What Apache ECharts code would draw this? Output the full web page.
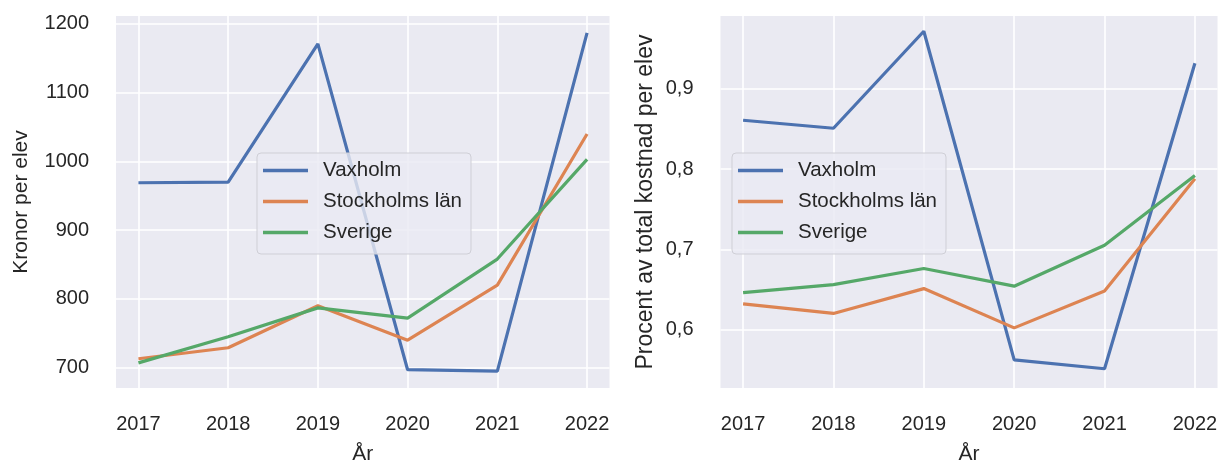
<!DOCTYPE html>
<html>
<head>
<meta charset="utf-8">
<script src="https://cdn.jsdelivr.net/npm/echarts@6/dist/echarts.min.js"></script>
<style>
html,body{margin:0;padding:0;background:#fff;}
#c{width:1221px;height:464px;}
</style>
</head>
<body>
<div id="c"></div>
<script>
const years = [2017, 2018, 2019, 2020, 2021, 2022];
const seriesNames = ['Vaxholm', 'Stockholms län', 'Sverige'];

// Left: Kronor per elev
const kronorVaxholm = [969, 970, 1171, 697, 695, 1187];
const kronorStockholm = [713, 729, 790, 740, 820, 1040];
const kronorSverige = [707, 745, 787, 772, 858, 1003];

// Right: Procent av total kostnad per elev
const procentVaxholm = [0.861, 0.851, 0.972, 0.562, 0.551, 0.932];
const procentStockholm = [0.632, 0.620, 0.651, 0.602, 0.648, 0.788];
const procentSverige = [0.646, 0.656, 0.676, 0.654, 0.705, 0.792];

const leftTicks = [700, 800, 900, 1000, 1100, 1200];
const rightTicks = [0.6, 0.7, 0.8, 0.9];

const colors = ['#4C72B0', '#DD8452', '#55A868'];
const txt = '#262626';
const font = '"Liberation Sans", Arial, sans-serif';

function pairs(vals) { return years.map((y, i) => [y, vals[i]]); }

function xAxis(gridIndex) {
  return {
    type: 'value', gridIndex: gridIndex, min: 2016.75, max: 2022.25,
    axisLine: {show: false},
    axisTick: {show: false, customValues: years},
    axisLabel: {customValues: years, color: txt, fontSize: 20, fontFamily: font, margin: 26,
      formatter: v => String(v)},
    splitLine: {show: true, lineStyle: {color: '#ffffff', width: 1.6}},
    name: 'År', nameLocation: 'middle', nameGap: 56,
    nameTextStyle: {color: txt, fontSize: 21, fontFamily: font}
  };
}

const ch = echarts.init(document.getElementById('c'), null, {renderer: 'canvas'});
const legendCommon = {
  orient: 'vertical', top: 153, data: seriesNames,
  icon: 'rect', itemWidth: 45, itemHeight: 3.5, itemGap: 10,
  padding: [7, 9, 11, 6],
  backgroundColor: 'rgba(234,234,242,0.8)',
  borderColor: '#cfcfd6', borderWidth: 1, borderRadius: 4,
  textStyle: {color: txt, fontSize: 20.5, fontFamily: font, padding: [0, 0, 0, 10]},
  selectedMode: false
};

const option = {
  backgroundColor: '#ffffff',
  animation: false,
  color: colors,
  grid: [
    {left: 116, right: 1221 - 609.5, top: 16, bottom: 464 - 388, backgroundColor: '#EAEAF2', show: true, borderWidth: 0, outerBoundsMode: 'none', containLabel: false},
    {left: 720.5, right: 1221 - 1217.5, top: 16, bottom: 464 - 388, backgroundColor: '#EAEAF2', show: true, borderWidth: 0, outerBoundsMode: 'none', containLabel: false}
  ],
  legend: [
    Object.assign({left: 257}, legendCommon),
    Object.assign({left: 732}, legendCommon)
  ],
  xAxis: [xAxis(0), xAxis(1)],
  yAxis: [
    {
      type: 'value', gridIndex: 0, min: 670.4, max: 1211.6,
      axisLine: {show: false},
      axisTick: {show: false, customValues: leftTicks},
      axisLabel: {customValues: leftTicks, color: txt, fontSize: 20, fontFamily: font, margin: 27,
        formatter: v => String(v)},
      splitLine: {show: true, lineStyle: {color: '#ffffff', width: 1.6}},
      name: 'Kronor per elev', nameLocation: 'middle', nameGap: 84,
      nameTextStyle: {color: txt, fontSize: 21, fontFamily: font}
    },
    {
      type: 'value', gridIndex: 1, min: 0.527, max: 0.991,
      axisLine: {show: false},
      axisTick: {show: false, customValues: rightTicks},
      axisLabel: {customValues: rightTicks, color: txt, fontSize: 20, fontFamily: font, margin: 27,
        formatter: v => v.toFixed(1).replace('.', ',')},
      splitLine: {show: true, lineStyle: {color: '#ffffff', width: 1.6}},
      name: 'Procent av total kostnad per elev', nameLocation: 'middle', nameGap: 63,
      nameTextStyle: {color: txt, fontSize: 23, fontFamily: font}
    }
  ],
  series: [
    {name: seriesNames[0], data: pairs(kronorVaxholm), xAxisIndex: 0, yAxisIndex: 0},
    {name: seriesNames[1], data: pairs(kronorStockholm), xAxisIndex: 0, yAxisIndex: 0},
    {name: seriesNames[2], data: pairs(kronorSverige), xAxisIndex: 0, yAxisIndex: 0},
    {name: seriesNames[0], data: pairs(procentVaxholm), xAxisIndex: 1, yAxisIndex: 1},
    {name: seriesNames[1], data: pairs(procentStockholm), xAxisIndex: 1, yAxisIndex: 1},
    {name: seriesNames[2], data: pairs(procentSverige), xAxisIndex: 1, yAxisIndex: 1}
  ].map((s, i) => Object.assign({
    type: 'line', showSymbol: false, symbol: 'none',
    lineStyle: {width: 3.2, color: colors[i % 3]},
    itemStyle: {color: colors[i % 3]},
    emphasis: {disabled: true}
  }, s))
};
ch.setOption(option);
</script>
</body>
</html>
